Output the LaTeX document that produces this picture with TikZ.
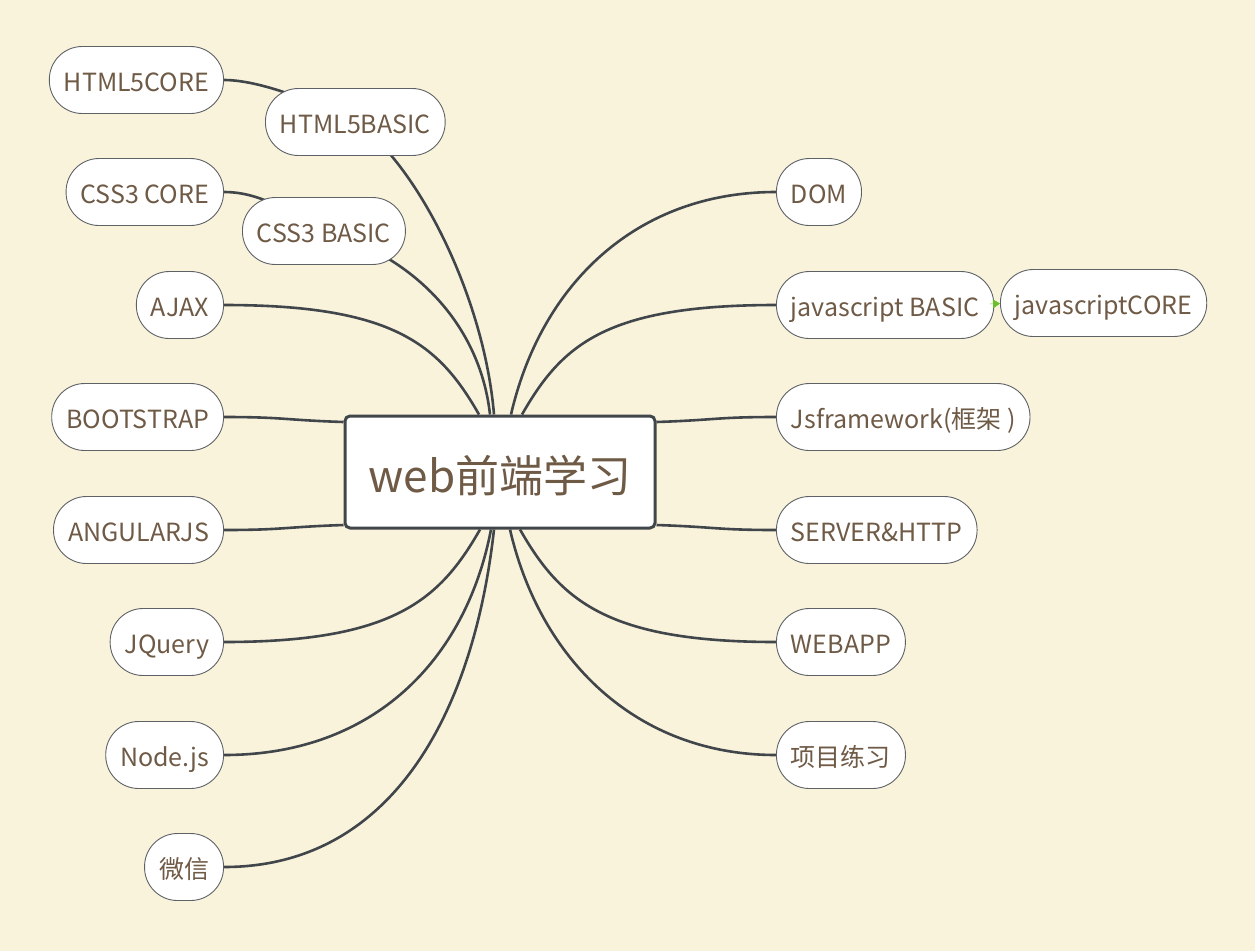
\documentclass[tikz,border=0pt]{standalone}
\usepackage{fontspec}
\setmainfont{Noto Sans CJK SC}
\usetikzlibrary{arrows.meta}
\definecolor{paper}{HTML}{FAF3DC}
\definecolor{ink}{HTML}{6F5A46}
\definecolor{wirecol}{HTML}{41464B}
\definecolor{sprout}{HTML}{6DBE2E}
\pgfdeclarelayer{bg}
\pgfsetlayers{bg,main}
\tikzset{
  topic/.style={draw=wirecol!85, line width=0.9pt, fill=white, rounded corners=33pt,
    minimum height=67pt, inner xsep=14.5pt, text height=22pt, text depth=0pt,
    text=ink, font=\fontsize{25}{29}\selectfont},
  hub/.style={draw=wirecol, line width=3pt, fill=white, rounded corners=5pt,
    minimum width=310pt, minimum height=112pt, text height=40pt, text depth=0pt,
    text=ink, font=\fontsize{44}{50}\selectfont},
  branch/.style={draw=wirecol, line width=2.6pt},
}
\begin{document}
\begin{tikzpicture}[x=1pt,y=-1pt, line join=round, line cap=round]
  \useasboundingbox (0,0) rectangle (1255,951);
  \node[hub] (hub) at (500,472) {web前端学习};
  % left
  \node[topic,anchor=east] (h5core) at (224,80) {HTML5CORE};
  \node[topic,anchor=west] (h5basic) at (265,122) {HTML5BASIC};
  \node[topic,anchor=east] (csscore) at (224,192) {CSS3 CORE};
  \node[topic,anchor=west] (cssbasic) at (242,231) {CSS3 BASIC};
  \node[topic,anchor=east] (ajax) at (224,305) {AJAX};
  \node[topic,anchor=east] (bootstrap) at (224,417) {BOOTSTRAP};
  \node[topic,anchor=east] (angular) at (224,530) {ANGULARJS};
  \node[topic,anchor=east] (jquery) at (224,642) {JQuery};
  \node[topic,anchor=east] (nodejs) at (224,755) {Node.js};
  \node[topic,anchor=east] (weixin) at (224,867) {微信};
  % right
  \node[topic,anchor=west] (dom) at (776,192) {DOM};
  \node[topic,anchor=west] (jsbasic) at (776,305) {javascript BASIC};
  \node[topic,anchor=west] (jscore) at (1000,303) {javascriptCORE};
  \node[topic,anchor=west] (jsframe) at (776,417) {Jsframework(框架 )};
  \node[topic,anchor=west] (server) at (776,530) {SERVER\&HTTP};
  \node[topic,anchor=west] (webapp) at (776,642) {WEBAPP};
  \node[topic,anchor=west] (xiangmu) at (776,755) {项目练习};
  \draw[sprout, line width=0.5pt, -{Triangle[length=7pt,width=9pt]}] ([xshift=-4pt,yshift=1pt]jsbasic.east) -- ([yshift=-0.5pt]jscore.west);
  \begin{pgfonlayer}{bg}
    \fill[paper] (0,0) rectangle (1255,951);
    \draw[branch] (h5core.east) .. controls +(40,0) and +(-30,-15) .. (h5basic.center);
    \draw[branch] (csscore.east) .. controls +(40,0) and +(-30,-15) .. (cssbasic.center);
    \draw[branch] (h5basic.center) .. controls +(60,40) and +(-10,-120) .. ([xshift=-6pt]hub.north);
    \draw[branch] (cssbasic.center) .. controls +(90,25) and +(-10,-90) .. ([xshift=-10pt]hub.north);
    \draw[branch] (ajax.east) .. controls +(170,0) and +(-40,-70) .. ([xshift=-21pt]hub.north);
    \draw[branch] (bootstrap.east) .. controls +(60,0) and +(-60,-2) .. ([yshift=50pt]hub.west);
    \draw[branch] (angular.east) .. controls +(60,0) and +(-60,2) .. ([yshift=-53pt]hub.west);
    \draw[branch] (jquery.east) .. controls +(170,0) and +(-40,70) .. ([xshift=-20pt]hub.south);
    \draw[branch] (nodejs.east) .. controls +(150,0) and +(-25,130) .. ([xshift=-9pt]hub.south);
    \draw[branch] (weixin.east) .. controls +(170,0) and +(-20,180) .. ([xshift=-6pt]hub.south);
    \draw[branch] (dom.west) .. controls +(-140,0) and +(30,-130) .. ([xshift=11pt]hub.north);
    \draw[branch] (jsbasic.west) .. controls +(-170,0) and +(40,-70) .. ([xshift=22pt]hub.north);
    \draw[branch] (jsframe.west) .. controls +(-60,0) and +(60,-2) .. ([yshift=50pt]hub.east);
    \draw[branch] (server.west) .. controls +(-60,0) and +(60,2) .. ([yshift=-53pt]hub.east);
    \draw[branch] (webapp.west) .. controls +(-170,0) and +(40,70) .. ([xshift=20pt]hub.south);
    \draw[branch] (xiangmu.west) .. controls +(-140,0) and +(30,130) .. ([xshift=10pt]hub.south);
  \end{pgfonlayer}
\end{tikzpicture}
\end{document}
